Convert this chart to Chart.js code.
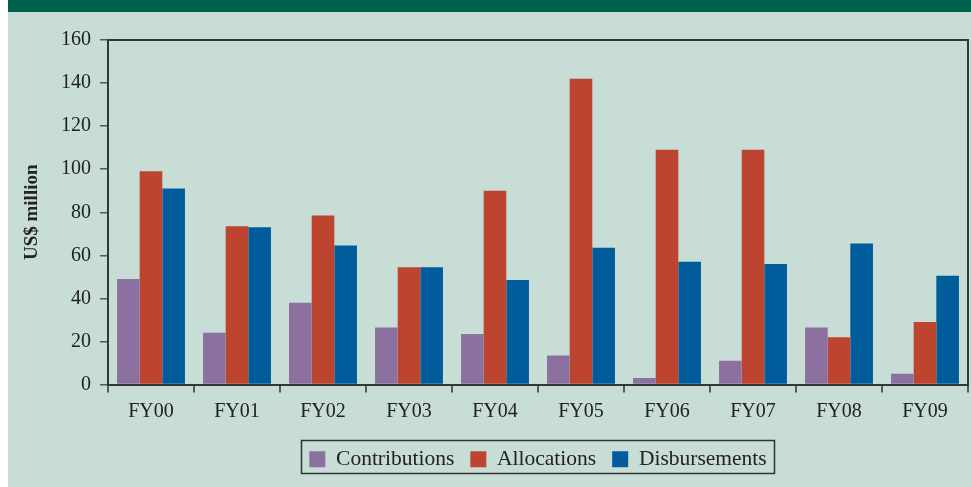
<!DOCTYPE html>
<html>
<head>
<meta charset="utf-8">
<script src="https://cdn.jsdelivr.net/npm/chart.js@4.4.1/dist/chart.umd.min.js"></script>
<style>
  html, body { margin: 0; padding: 0; background: #ffffff; }
  #wrap { width: 971px; height: 487px; position: relative; }
</style>
</head>
<body>
<div id="wrap"><canvas id="c" width="971" height="487"></canvas></div>
<script>
const categories = ['FY00','FY01','FY02','FY03','FY04','FY05','FY06','FY07','FY08','FY09'];
const contributions = [49, 24, 38, 26.5, 23.5, 13.5, 3, 11, 26.5, 5];
const allocations   = [99, 73.5, 78.5, 54.5, 90, 142, 109, 109, 22, 29];
const disbursements = [91, 73, 64.5, 54.5, 48.5, 63.5, 57, 56, 65.5, 50.5];
const yTicks = [0, 20, 40, 60, 80, 100, 120, 140, 160];
const yTitle = 'US$ million';

const FONT = "'Liberation Serif', 'Times New Roman', serif";
const BG = '#c7ddd6';
const BAND = '#00624a';
const AXIS = '#333836';

const decor = {
  id: 'decor',
  beforeDraw(chart) {
    const ctx = chart.ctx;
    ctx.save();
    ctx.fillStyle = '#ffffff';
    ctx.fillRect(0, 0, chart.width, chart.height);
    ctx.fillStyle = BG;
    ctx.fillRect(8, 0, chart.width - 8, chart.height);
    ctx.fillStyle = BAND;
    ctx.fillRect(8, 0, chart.width - 8, 12);
    ctx.restore();
  },
  afterDraw(chart) {
    const ctx = chart.ctx;
    const a = chart.chartArea;
    ctx.save();
    ctx.strokeStyle = AXIS;
    ctx.lineWidth = 2;
    ctx.beginPath();
    ctx.moveTo(a.left, a.top);
    ctx.lineTo(a.right, a.top);
    ctx.lineTo(a.right, a.bottom);
    ctx.stroke();
    // legend frame
    const hb = chart.legend && chart.legend.legendHitBoxes;
    if (hb && hb.length) {
      const l = Math.min(...hb.map(b => b.left)) - 8;
      const r = Math.max(...hb.map(b => b.left + b.width)) + 8;
      const t = Math.min(...hb.map(b => b.top));
      ctx.lineWidth = 1.5;
      ctx.strokeStyle = '#333333';
      ctx.strokeRect(Math.round(l) + 0.5, Math.round(t - 9) + 0.5, Math.round(r - l), 33);
    }
    ctx.restore();
  }
};

new Chart(document.getElementById('c'), {
  type: 'bar',
  data: {
    labels: categories,
    datasets: [
      { label: 'Contributions', data: contributions, backgroundColor: '#8c71a0' },
      { label: 'Allocations', data: allocations, backgroundColor: '#bd4530' },
      { label: 'Disbursements', data: disbursements, backgroundColor: '#005c9b' }
    ]
  },
  options: {
    responsive: false,
    animation: false,
    devicePixelRatio: 1,
    layout: { padding: { top: 40, right: 3, bottom: 7, left: 0 } },
    datasets: { bar: { categoryPercentage: 0.79, barPercentage: 1.0, borderWidth: 0 } },
    plugins: {
      tooltip: { enabled: false },
      legend: {
        position: 'bottom',
        fullSize: false,
        labels: {
          font: { family: FONT, size: 21.5 },
          color: '#222222',
          boxWidth: 16,
          boxHeight: 16,
          padding: 16
        }
      }
    },
    scales: {
      x: {
        grid: { display: true, offset: true, drawOnChartArea: false, drawTicks: true, tickLength: 8, color: '#555a58', lineWidth: 2 },
        border: { display: true, color: AXIS, width: 2 },
        ticks: { font: { family: FONT, size: 20 }, color: '#222222', padding: 7, maxRotation: 0 },
        afterFit(scale) { scale.height = 48; }
      },
      y: {
        min: 0, max: 160,
        afterBuildTicks(scale) { scale.ticks = yTicks.map(v => ({ value: v })); },
        grid: { display: true, drawOnChartArea: false, drawTicks: true, tickLength: 8, color: '#555a58', lineWidth: 1.5 },
        border: { display: true, color: AXIS, width: 2 },
        ticks: { font: { family: FONT, size: 20 }, color: '#222222', padding: 9 },
        title: { display: true, text: yTitle, font: { family: FONT, size: 19, weight: 'bold' }, color: '#222222', padding: { top: 21, bottom: 0 } },
        afterFit(scale) { scale.width = 108; }
      }
    }
  },
  plugins: [decor]
});
</script>
</body>
</html>
